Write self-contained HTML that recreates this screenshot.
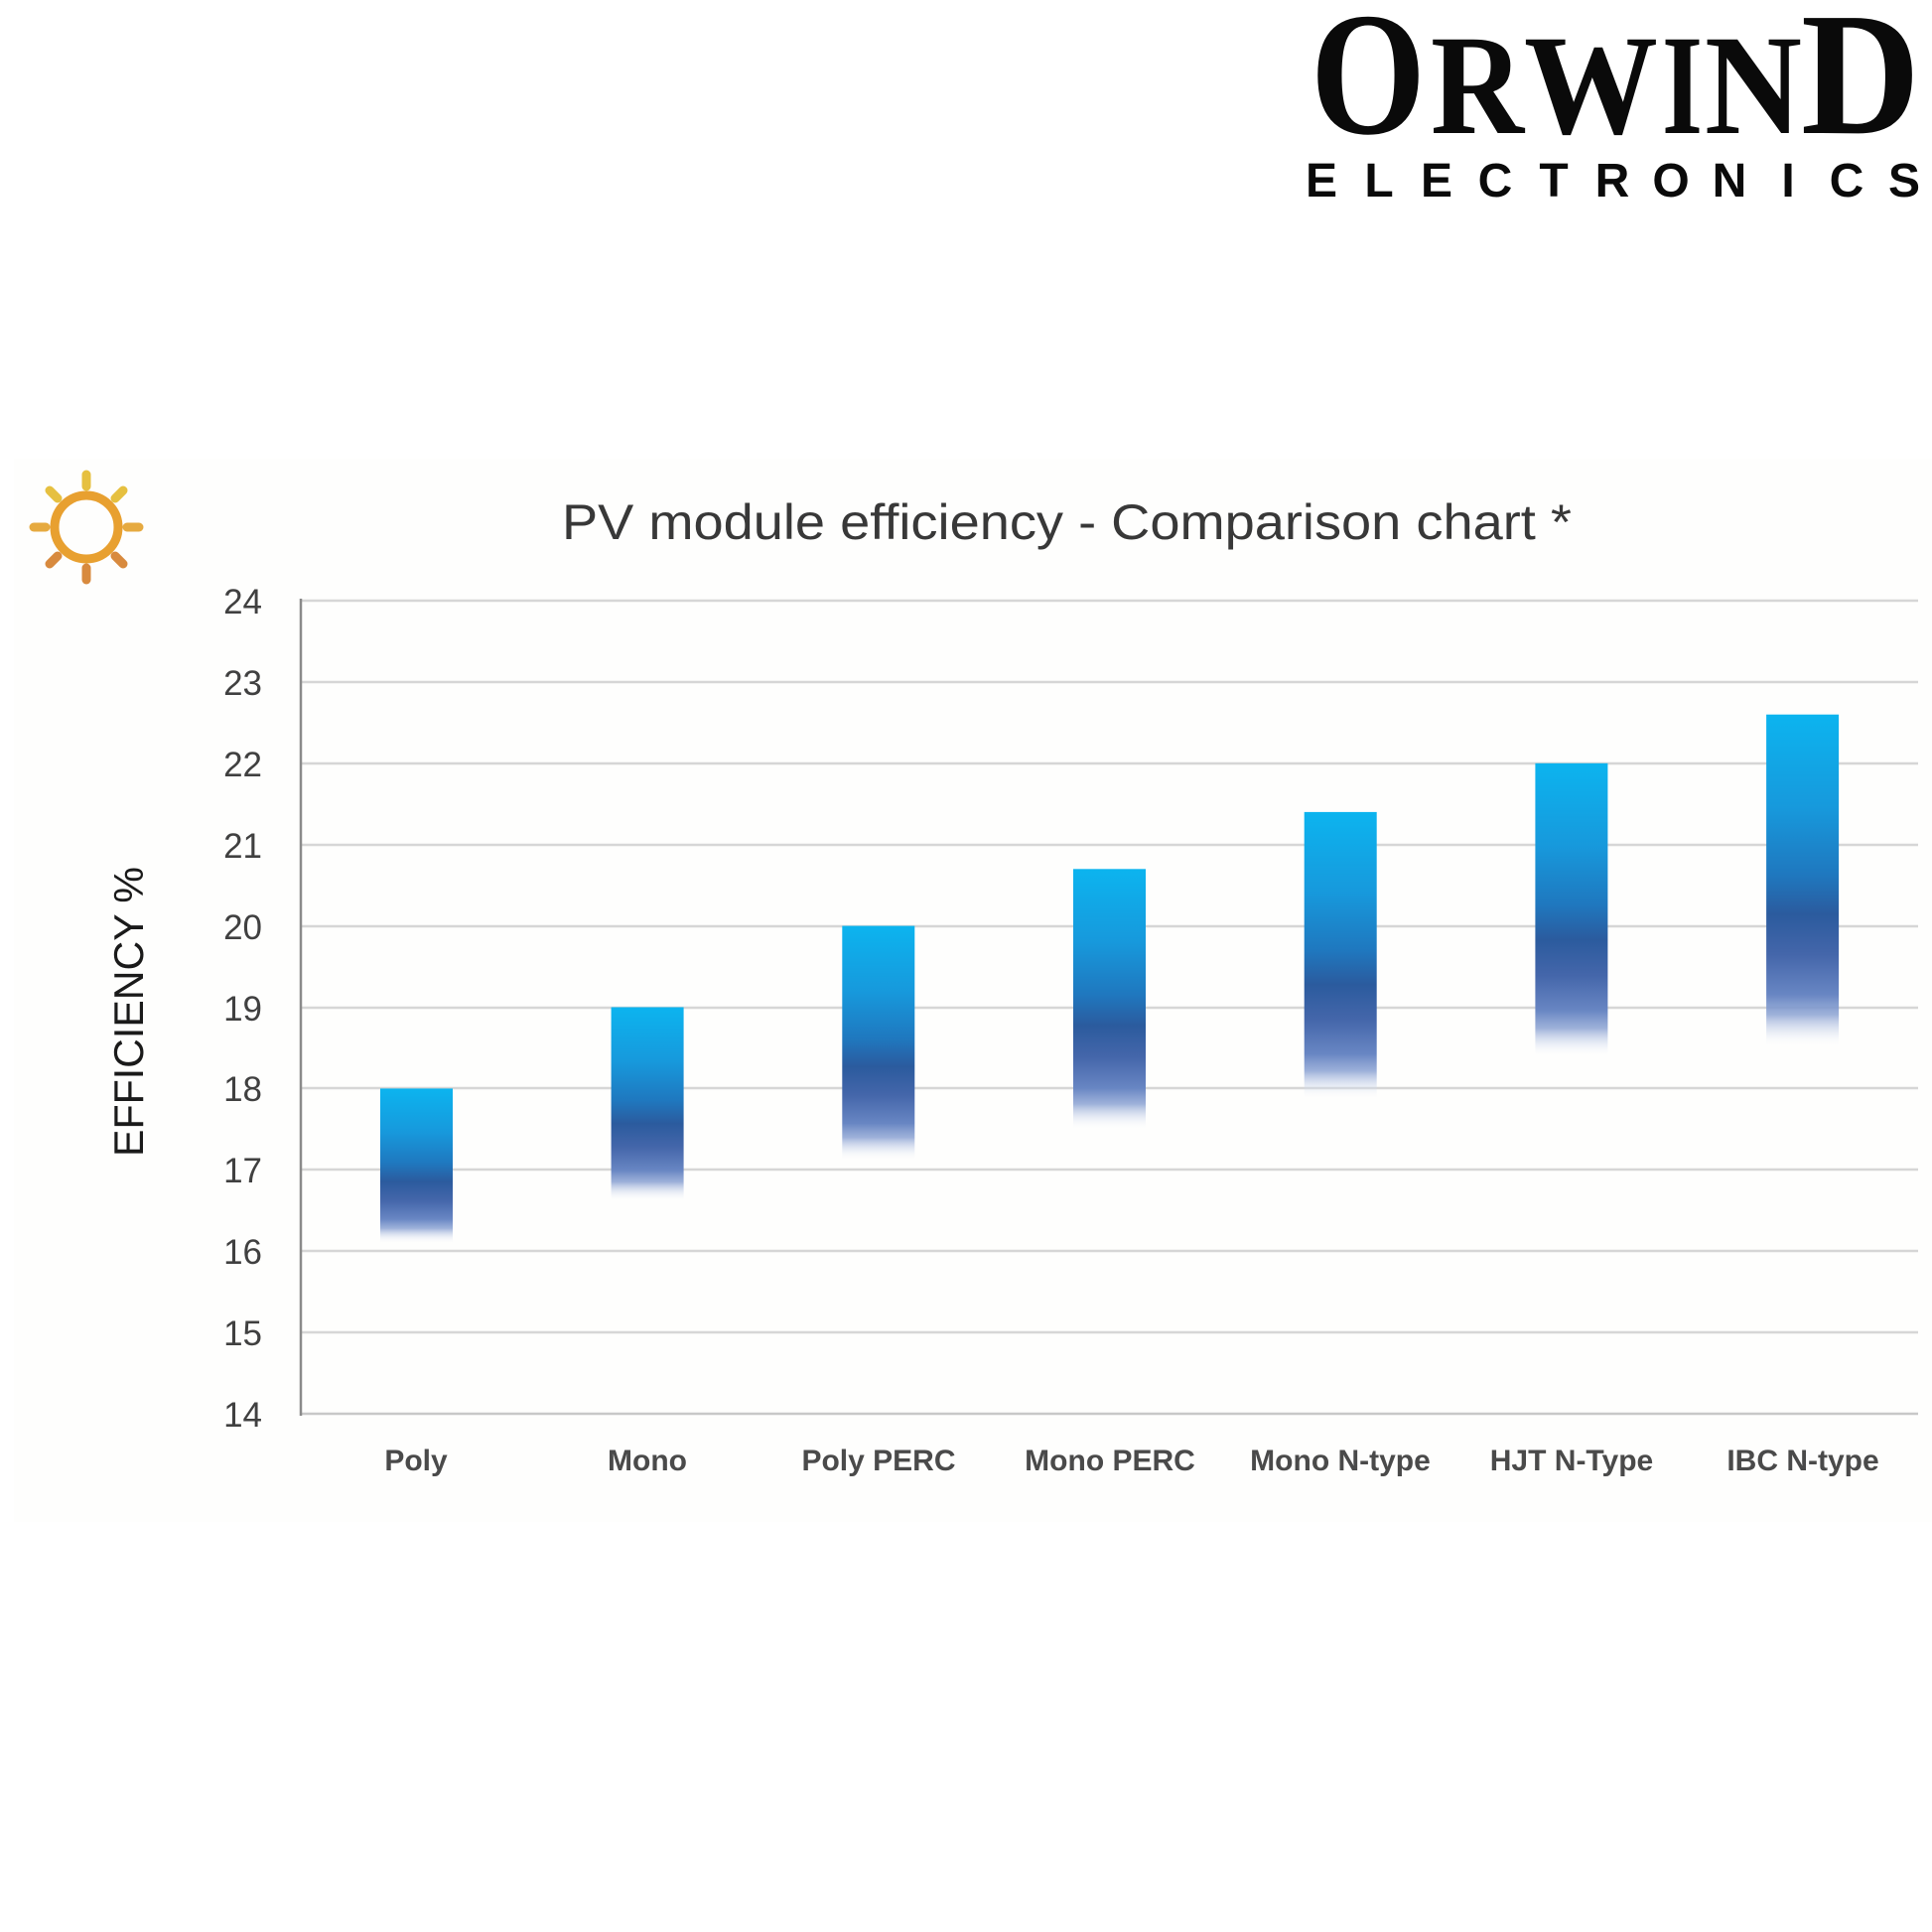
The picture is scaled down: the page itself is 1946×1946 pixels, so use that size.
<!DOCTYPE html>
<html><head><meta charset="utf-8"><style>
html,body{margin:0;padding:0;background:#fff;}
svg{display:block;}
</style></head><body>
<svg width="1946" height="1946" viewBox="0 0 1946 1946" xmlns="http://www.w3.org/2000/svg">
<defs>
<linearGradient id="bar" x1="0" y1="0" x2="0" y2="1">
<stop offset="0" stop-color="#0cb4ef"/>
<stop offset="0.28" stop-color="#1799dc"/>
<stop offset="0.48" stop-color="#1f78bf"/>
<stop offset="0.6" stop-color="#2b5b9e"/>
<stop offset="0.72" stop-color="#4466aa"/>
<stop offset="0.84" stop-color="#6886c3"/>
<stop offset="0.9" stop-color="#8ca3d3" stop-opacity="0.85"/>
<stop offset="1" stop-color="#ffffff" stop-opacity="0"/>
</linearGradient>
</defs>
<rect x="0" y="0" width="1946" height="1946" fill="#ffffff"/>
<rect x="14" y="462" width="1932" height="1071" fill="#fefefd"/>

<!-- Logo -->
<g font-family="'Liberation Serif', serif" font-weight="bold" fill="#0a0a0a">
<text x="1320" y="134" font-size="177" textLength="116" lengthAdjust="spacingAndGlyphs">O</text>
<text x="1441" y="134" font-size="144" textLength="94" lengthAdjust="spacingAndGlyphs">R</text>
<text x="1535" y="134" font-size="144" textLength="135" lengthAdjust="spacingAndGlyphs">W</text>
<text x="1674" y="134" font-size="144" textLength="41" lengthAdjust="spacingAndGlyphs">I</text>
<text x="1717" y="134" font-size="144" textLength="98" lengthAdjust="spacingAndGlyphs">N</text>
<text x="1814" y="134" font-size="177" textLength="120" lengthAdjust="spacingAndGlyphs">D</text>
</g>
<g font-family="'Liberation Sans', sans-serif" font-weight="bold" font-size="48" fill="#0a0a0a" text-anchor="middle">
<text x="1331" y="198">E</text>
<text x="1389" y="198">L</text>
<text x="1447" y="198">E</text>
<text x="1506" y="198">C</text>
<text x="1565" y="198">T</text>
<text x="1624" y="198">R</text>
<text x="1683" y="198">O</text>
<text x="1742" y="198">N</text>
<text x="1801" y="198">I</text>
<text x="1860" y="198">C</text>
<text x="1918" y="198">S</text>
</g>

<!-- Sun icon -->
<circle cx="87" cy="531" r="32" fill="none" stroke="#e8a030" stroke-width="9"/>
<g stroke-linecap="round" stroke-width="9">
<line x1="87" y1="478" x2="87" y2="490" stroke="#e6c040"/>
<line x1="87" y1="572" x2="87" y2="584" stroke="#d88a3e"/>
<line x1="34" y1="531" x2="46" y2="531" stroke="#e6aa40"/>
<line x1="128" y1="531" x2="140" y2="531" stroke="#e6aa40"/>
<line x1="50" y1="494" x2="58" y2="502" stroke="#e6c040"/>
<line x1="124" y1="494" x2="116" y2="502" stroke="#e6c040"/>
<line x1="50" y1="568" x2="58" y2="560" stroke="#d88a3e"/>
<line x1="124" y1="568" x2="116" y2="560" stroke="#d88a3e"/>
</g>

<!-- Title -->
<text x="566" y="543" font-family="'Liberation Sans', sans-serif" font-size="50" fill="#383838" textLength="1017" lengthAdjust="spacingAndGlyphs">PV module efficiency - Comparison chart *</text>

<!-- Gridlines -->
<g stroke="#d6d6d6" stroke-width="2.5">
<line x1="303" y1="605" x2="1932" y2="605"/>
<line x1="303" y1="687" x2="1932" y2="687"/>
<line x1="303" y1="769" x2="1932" y2="769"/>
<line x1="303" y1="851" x2="1932" y2="851"/>
<line x1="303" y1="933" x2="1932" y2="933"/>
<line x1="303" y1="1015" x2="1932" y2="1015"/>
<line x1="303" y1="1096" x2="1932" y2="1096"/>
<line x1="303" y1="1178" x2="1932" y2="1178"/>
<line x1="303" y1="1260" x2="1932" y2="1260"/>
<line x1="303" y1="1342" x2="1932" y2="1342"/>
</g>
<line x1="303" y1="1424" x2="1932" y2="1424" stroke="#c8c8c8" stroke-width="2.5"/>
<line x1="303" y1="603" x2="303" y2="1426" stroke="#8a8a8a" stroke-width="2.5"/>

<!-- Y tick labels -->
<g font-family="'Liberation Sans', sans-serif" font-size="35" fill="#404040" text-anchor="end">
<text x="264" y="618">24</text>
<text x="264" y="700">23</text>
<text x="264" y="782">22</text>
<text x="264" y="864">21</text>
<text x="264" y="946">20</text>
<text x="264" y="1028">19</text>
<text x="264" y="1109">18</text>
<text x="264" y="1191">17</text>
<text x="264" y="1273">16</text>
<text x="264" y="1355">15</text>
<text x="264" y="1437">14</text>
</g>

<!-- Y axis title -->
<text transform="translate(144,1019) rotate(-90)" text-anchor="middle" font-family="'Liberation Sans', sans-serif" font-size="42" fill="#1a1a1a" textLength="292" lengthAdjust="spacingAndGlyphs">EFFICIENCY %</text>

<!-- Bars -->
<g fill="url(#bar)">
<rect x="383" y="1096.4" width="73" height="156.4"/>
<rect x="615.6" y="1014.5" width="73" height="195.7"/>
<rect x="848.3" y="932.6" width="73" height="236.7"/>
<rect x="1081" y="875.3" width="73" height="262.9"/>
<rect x="1313.7" y="817.9" width="73" height="290"/>
<rect x="1546.4" y="768.8" width="73" height="296.5"/>
<rect x="1779.1" y="719.7" width="73" height="335.8"/>
</g>

<!-- X labels -->
<g font-family="'Liberation Sans', sans-serif" font-weight="bold" font-size="30" fill="#4a4a4a" text-anchor="middle">
<text x="419" y="1481">Poly</text>
<text x="652" y="1481">Mono</text>
<text x="885" y="1481">Poly PERC</text>
<text x="1118" y="1481">Mono PERC</text>
<text x="1350" y="1481">Mono N-type</text>
<text x="1583" y="1481">HJT N-Type</text>
<text x="1816" y="1481">IBC N-type</text>
</g>
</svg>
</body></html>
